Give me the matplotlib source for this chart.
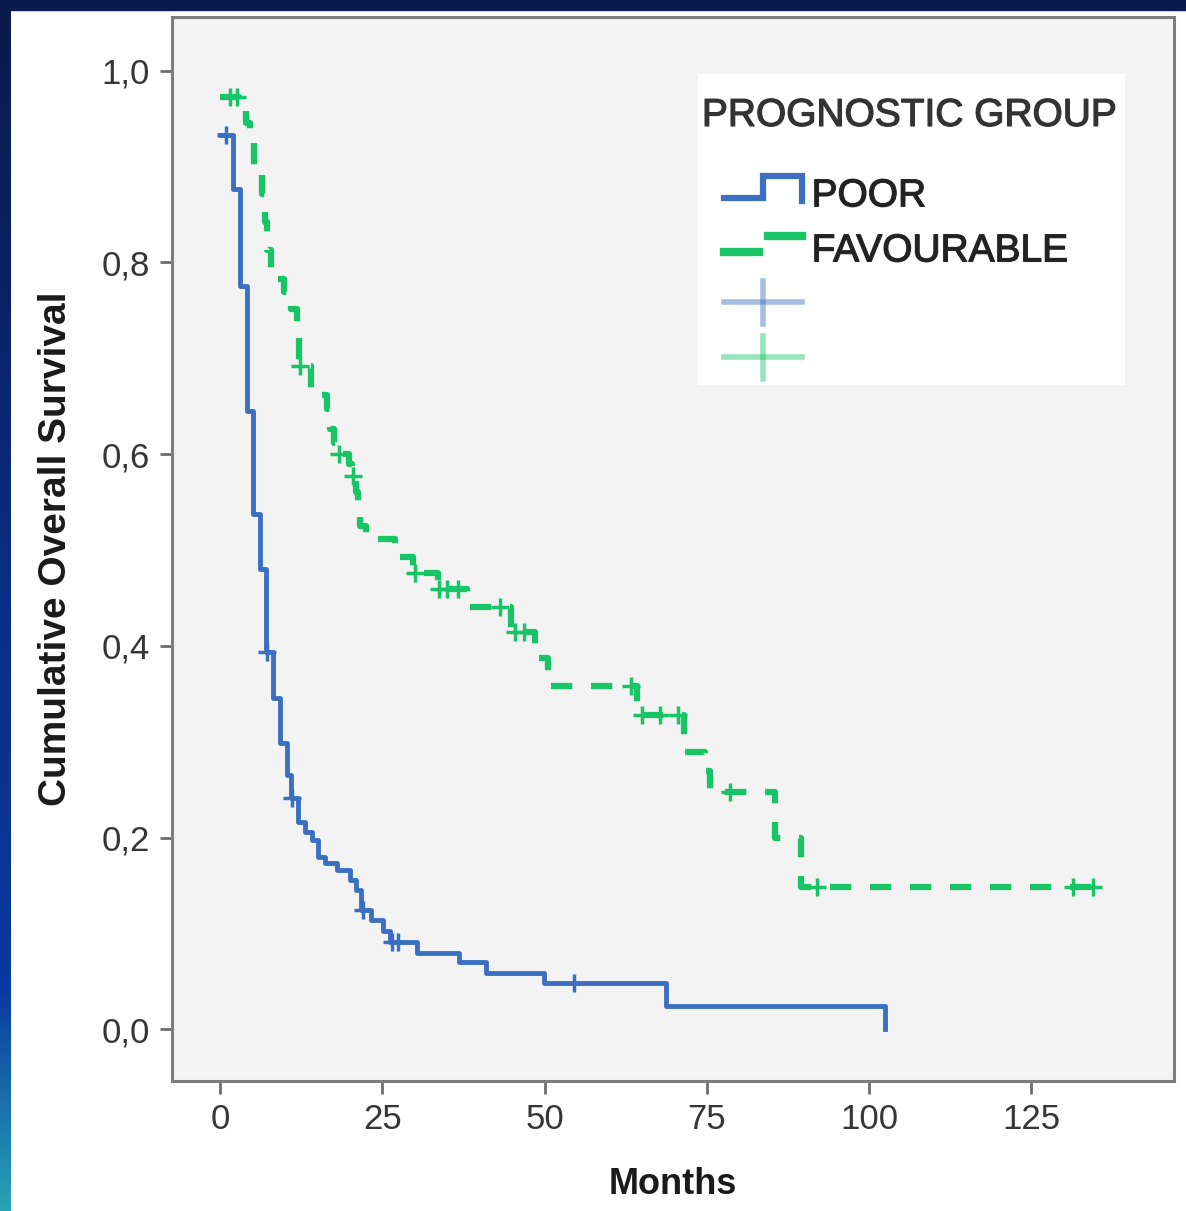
import numpy as np
import matplotlib
matplotlib.use("Agg")
import matplotlib.pyplot as plt
import matplotlib.patheffects as pe
from matplotlib.colors import LinearSegmentedColormap
from matplotlib.legend_handler import HandlerBase
from matplotlib.lines import Line2D
from matplotlib.patches import Rectangle
from matplotlib.ticker import FuncFormatter

# Kaplan-Meier steps (months, cumulative survival)
poor_t = [0, 2.0, 3.1, 4.15, 5.1, 6.15, 7.1, 8.2, 9.2, 10.3, 11.0, 12.0, 13.1, 14.1,
          15.1, 16.2, 18.0, 20.0, 21.0, 21.8, 23.3, 25.1, 26.2, 30.3, 36.9, 41.0,
          49.9, 68.7, 102.5]
poor_s = [0.933, 0.877, 0.775, 0.645, 0.537, 0.480, 0.394, 0.346, 0.299, 0.265, 0.241,
          0.216, 0.206, 0.197, 0.180, 0.173, 0.166, 0.156, 0.145, 0.124, 0.114, 0.103,
          0.091, 0.080, 0.070, 0.059, 0.048, 0.024, 0.0]
poor_cens = [0.9, 7.2, 11.1, 22.0, 26.5, 27.5, 54.6]

fav_t = [0, 3.0, 4.0, 4.6, 5.2, 6.4, 6.9, 7.3, 7.8, 9.8, 11.0, 11.8, 12.1, 14.0,
         16.5, 16.9, 17.6, 18.0, 19.8, 20.3, 21.0, 21.3, 21.6, 22.5, 27.0, 29.7,
         33.6, 38.0, 44.8, 48.5, 50.5, 64.3, 71.5, 74.8, 75.5, 85.5, 89.5, 135.0]
fav_s = [0.973, 0.959, 0.945, 0.930, 0.900, 0.871, 0.842, 0.813, 0.783, 0.769, 0.751,
         0.733, 0.692, 0.662, 0.647, 0.626, 0.612, 0.600, 0.590, 0.577, 0.560, 0.540,
         0.525, 0.511, 0.493, 0.476, 0.459, 0.440, 0.414, 0.387, 0.358, 0.328, 0.289,
         0.269, 0.248, 0.200, 0.148, 0.148]
fav_cens = [1.5, 2.6, 12.4, 18.3, 20.5, 30.0, 33.8, 35.0, 36.6, 43.2, 45.5, 46.8,
            63.3, 65.0, 67.8, 70.5, 78.6, 92.0, 131.5, 134.5]

x_ticks = [0, 25, 50, 75, 100, 125]
y_ticks = [0.0, 0.2, 0.4, 0.6, 0.8, 1.0]
group_labels = ["POOR", "FAVOURABLE"]

BLUE = "#3a6fc2"
GREEN = "#17c466"

plt.rcParams["font.family"] = ["Liberation Sans", "DejaVu Sans"]


def at_step(t, s, times):
    idx = np.searchsorted(t, times, side="right") - 1
    return np.array(s)[idx]


class LegendGlyph(HandlerBase):
    # draws the SPSS-like legend symbols, indented a bit from the title
    def __init__(self, kind):
        super().__init__()
        self.kind = kind

    def create_artists(self, legend, orig_handle, xdescent, ydescent,
                       width, height, fontsize, trans):
        w = width * 0.78
        x0 = -xdescent + width - w
        y0 = -ydescent
        h = height
        if self.kind == "poor":
            arts = [Line2D([x0, x0 + 0.5 * w, x0 + 0.5 * w, x0 + w, x0 + w],
                           [y0 + 0.3 * h, y0 + 0.3 * h, y0 + 1.1 * h, y0 + 1.1 * h, y0 + 0.2 * h],
                           color=BLUE, lw=4.5, solid_joinstyle="miter")]
        elif self.kind == "fav":
            arts = [Line2D([x0, x0 + 0.45 * w], [y0 + 0.33 * h, y0 + 0.33 * h], color=GREEN, lw=6),
                    Line2D([x0 + 0.57 * w, x0 + w], [y0 + 0.92 * h, y0 + 0.92 * h], color=GREEN, lw=6)]
        else:
            col = BLUE if self.kind == "cpoor" else GREEN
            arts = [Line2D([x0, x0 + w], [y0 + 0.52 * h, y0 + 0.52 * h], color=col, lw=4, alpha=0.45),
                    Line2D([x0 + 0.5 * w, x0 + 0.5 * w], [y0 - 0.26 * h, y0 + 1.3 * h],
                           color=col, lw=4, alpha=0.45)]
        for a in arts:
            a.set_transform(trans)
        return arts


fig = plt.figure(figsize=(11.86, 12.11), dpi=100)
fig.patch.set_facecolor("white")

# blue slide border (top band and left gradient strip)
strip = fig.add_axes([0, 0, 11 / 1186, 1])
cmap = LinearSegmentedColormap.from_list(
    "edge", [(0, "#0b1a4a"), (0.5, "#0a2d86"), (0.82, "#0a3aa0"), (1, "#27a3b8")])
strip.imshow(np.linspace(0, 1, 256).reshape(-1, 1), aspect="auto", cmap=cmap)
strip.axis("off")
fig.add_artist(Rectangle((0, 1 - 10 / 1211), 1, 10 / 1211, transform=fig.transFigure,
                         color="#0b1b4d", zorder=5))

ax = fig.add_axes([172 / 1186, 130 / 1211, 1002 / 1186, 1064 / 1211])
ax.set_facecolor("#f3f3f3")

ax.step(poor_t, poor_s, where="post", color=BLUE, lw=3.5, zorder=3)
ax.plot(poor_cens, at_step(poor_t, poor_s, poor_cens), ls="none", marker="+",
        ms=13, mew=2.5, color=BLUE, zorder=4)

fav_line, = ax.step(fav_t, fav_s, where="post", color=GREEN, lw=4.5, zorder=3)
fav_line.set_dashes((3.4, 3.0))
fav_line.set_dash_capstyle("butt")
ax.plot(fav_cens, at_step(fav_t, fav_s, fav_cens), ls="none", marker="+",
        ms=13, mew=2.5, color=GREEN, zorder=4)

ax.set_xlim(-7.4, 147.0)
ax.set_ylim(-0.054, 1.056)
ax.set_xticks(x_ticks)
ax.set_yticks(y_ticks)
ax.yaxis.set_major_formatter(FuncFormatter(lambda v, p: f"{v:.1f}".replace(".", ",")))

for sp in ax.spines.values():
    sp.set_color("#7d7d7d")
    sp.set_linewidth(2.2)
ax.tick_params(axis="both", direction="out", length=9, width=2, color="#6d6d6d",
               labelsize=25, labelcolor="#363636", pad=7)

ax.set_xlabel("Months", fontsize=26, fontweight="bold", color="#1a1a1a", labelpad=22)
ax.set_ylabel("Cumulative Overall Survival", fontsize=28, fontweight="bold",
              color="#1a1a1a", labelpad=20)

# legend: white panel behind a frameless legend
ax.add_patch(Rectangle((0.525, 0.654), 0.426, 0.2925, transform=ax.transAxes,
                       facecolor="white", edgecolor="none", zorder=5, clip_on=False))
dummies = [Line2D([], []) for _ in range(4)]
hmap = {dummies[0]: LegendGlyph("poor"), dummies[1]: LegendGlyph("fav"),
        dummies[2]: LegendGlyph("cpoor"), dummies[3]: LegendGlyph("cfav")}
leg = ax.legend(dummies, group_labels + [" ", " "], handler_map=hmap,
                loc="upper left", bbox_to_anchor=(0.525, 0.9276),
                borderaxespad=0, fontsize=28, title="PROGNOSTIC GROUP", title_fontsize=28,
                alignment="left", handlelength=2.57, handletextpad=0.25,
                labelspacing=0.49, borderpad=0.1, frameon=False)
leg.set_zorder(6)
leg._legend_box.sep = 32
heavy = [pe.withStroke(linewidth=0.9, foreground="#2a2a2a")]
for txt in leg.get_texts():
    txt.set_color("#222222")
    txt.set_path_effects(heavy)
leg.get_title().set_color("#333333")
leg.get_title().set_path_effects([pe.withStroke(linewidth=0.9, foreground="#333333")])

fig.savefig("out.png", dpi=100)
